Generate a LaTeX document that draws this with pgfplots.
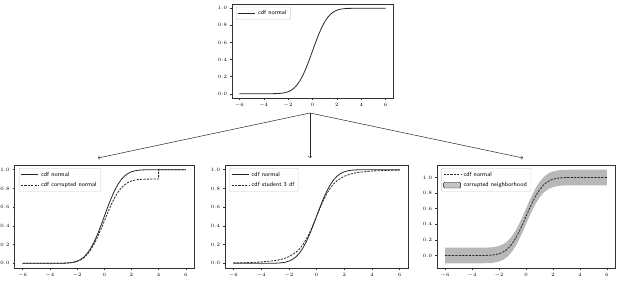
\documentclass[border=0pt]{standalone}
\usepackage{pgfplots}
\pgfplotsset{compat=1.18}
\pgfplotstableread{
x y
-6 0
-4 0.00003
-3.5 0.0002
-3 0.00135
-2.75 0.0030
-2.5 0.0062
-2.25 0.0122
-2 0.0228
-1.75 0.0401
-1.5 0.0668
-1.25 0.1056
-1 0.1587
-0.75 0.2266
-0.5 0.3085
-0.25 0.4013
0 0.5
0.25 0.5987
0.5 0.6915
0.75 0.7734
1 0.8413
1.25 0.8944
1.5 0.9332
1.75 0.9599
2 0.9772
2.25 0.9878
2.5 0.9938
2.75 0.9970
3 0.99865
3.5 0.9998
4 0.99997
6 1
}\normaltab
\pgfplotstableread{
x y
-6 0
-4 0.00003
-3.5 0.0002
-3 0.0012
-2.75 0.0027
-2.5 0.0056
-2.25 0.0110
-2 0.0205
-1.75 0.0361
-1.5 0.0601
-1.25 0.0950
-1 0.1428
-0.75 0.2039
-0.5 0.2777
-0.25 0.3612
0 0.45
0.25 0.5388
0.5 0.6224
0.75 0.6961
1 0.7572
1.25 0.8050
1.5 0.8399
1.75 0.8639
2 0.8795
2.25 0.8890
2.5 0.8944
2.75 0.8973
3 0.8988
3.5 0.8998
4 0.9
4 1
6 1
}\corrtab
\pgfplotstableread{
x y
-6 0.0046
-5 0.0077
-4 0.0141
-3 0.0288
-2.5 0.0438
-2 0.0697
-1.5 0.1153
-1.25 0.1499
-1 0.1955
-0.75 0.2538
-0.5 0.3257
-0.25 0.4094
0 0.5
0.25 0.5906
0.5 0.6743
0.75 0.7462
1 0.8045
1.25 0.8501
1.5 0.8847
2 0.9303
2.5 0.9562
3 0.9712
4 0.9859
5 0.9923
6 0.9954
}\studtab
\pgfplotstableread{
x y
-6 0.1
-4 0.10003
-3.5 0.1002
-3 0.10135
-2.75 0.1030
-2.5 0.1062
-2.25 0.1122
-2 0.1228
-1.75 0.1401
-1.5 0.1668
-1.25 0.2056
-1 0.2587
-0.75 0.3266
-0.5 0.4085
-0.25 0.5013
0 0.6
0.25 0.6987
0.5 0.7915
0.75 0.8734
1 0.9413
1.25 0.9944
1.5 1.0332
1.75 1.0599
2 1.0772
2.25 1.0878
2.5 1.0938
2.75 1.0970
3 1.09865
3.5 1.0998
4 1.09997
6 1.1
6 0.9
4 0.89997
3.5 0.8998
3 0.89865
2.75 0.8970
2.5 0.8938
2.25 0.8878
2 0.8772
1.75 0.8599
1.5 0.8332
1.25 0.7944
1 0.7413
0.75 0.6734
0.5 0.5915
0.25 0.4987
0 0.4
-0.25 0.3013
-0.5 0.2085
-0.75 0.1266
-1 0.0587
-1.25 0.0056
-1.5 -0.0332
-1.75 -0.0599
-2 -0.0772
-2.25 -0.0878
-2.5 -0.0938
-2.75 -0.0970
-3 -0.09865
-3.5 -0.0998
-4 -0.09997
-6 -0.1
}\bandtab
\pgfplotsset{
  myax/.style={
    scale only axis,
    xmin=-6.6, xmax=6.6,
    xtick={-6,-4,-2,0,2,4,6},
    ytick={0,0.2,0.4,0.6,0.8,1.0},
    yticklabel style={/pgf/number format/.cd,fixed,fixed zerofill,precision=1},
    tick label style={font=\fontsize{3.8}{4}\selectfont},
    tick align=outside,
    xtick pos=bottom, ytick pos=left,
    major tick length=1.8pt,
    every tick/.style={black!80, line width=0.4pt},
    axis line style={black!80, line width=0.7pt},
    xticklabel shift=-0.3pt, yticklabel shift=-0.3pt,
    legend style={at={(0.025,0.97)}, anchor=north west, font=\sffamily\fontsize{6}{7}\selectfont,
      draw=black!20, rounded corners=1pt, inner sep=1.5pt, row sep=0.8pt, fill=white, fill opacity=0.8, text opacity=1,
      nodes={inner xsep=2.5pt}},
    legend cell align=left,
  },
  nline/.style={black!85, line width=0.8pt},
  dline/.style={black!85, line width=0.8pt, dash pattern=on 2.2pt off 1.2pt},
}
\begin{document}
\begin{tikzpicture}
\useasboundingbox (0pt,0pt) rectangle (621pt,286pt);
% top
\begin{axis}[myax, at={(232pt,188pt)}, anchor=south west, width=161pt, height=94pt, ymin=-0.05, ymax=1.05]
\addplot[nline] table {\normaltab};
\addlegendentry{cdf normal}
\end{axis}
% bottom left
\begin{axis}[myax, at={(14.5pt,18pt)}, anchor=south west, width=179.5pt, height=103pt, ymin=-0.05, ymax=1.05]
\addplot[nline] table {\normaltab};
\addlegendentry{cdf normal}
\addplot[dline] table {\corrtab};
\addlegendentry{cdf corrupted normal}
\end{axis}
% bottom middle
\begin{axis}[myax, at={(225pt,18pt)}, anchor=south west, width=183pt, height=103pt, ymin=-0.05, ymax=1.05]
\addplot[nline] table {\normaltab};
\addlegendentry{cdf normal}
\addplot[dline] table {\studtab};
\addlegendentry{cdf student 3 df}
\end{axis}
% bottom right
\begin{axis}[myax, at={(437pt,18pt)}, anchor=south west, width=178pt, height=103pt, ymin=-0.16, ymax=1.16]
\addplot[dline] table {\normaltab};
\addlegendentry{cdf normal}
\addplot[fill=black!28, draw=none, area legend] table {\bandtab} -- cycle;
\addlegendentry{corrupted neighborhood}
\addplot[dline, forget plot] table {\normaltab};
\end{axis}
% arrows
\draw[->, black!85, line width=0.5pt] (310pt,173pt) -- (98pt,128pt);
\draw[->, black!85, line width=0.5pt] (310pt,173pt) -- (310pt,128pt);
\draw[->, black!85, line width=0.5pt] (310pt,173pt) -- (523pt,128pt);
\end{tikzpicture}
\end{document}
